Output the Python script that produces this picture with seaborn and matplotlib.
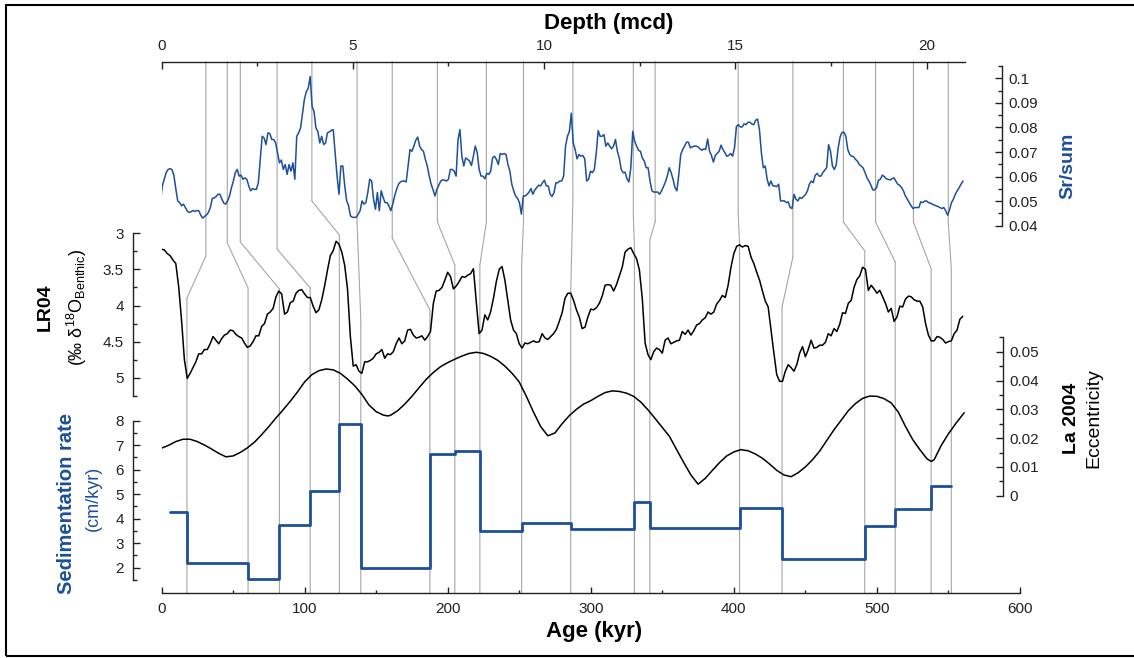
# Sr/sum vs depth tied to LR04 benthic d18O, La2004 eccentricity and sedimentation rate
import numpy as np
import pandas as pd
import seaborn as sns
import matplotlib.pyplot as plt
from matplotlib.patches import ConnectionPatch, Rectangle
from matplotlib.transforms import blended_transform_factory as blend
from matplotlib.ticker import FuncFormatter

# ---- data ----
# Sr/sum record, read at 0.05, 0.15, ... m and at 0.1, 0.2, ... m (mcd)
sr_depth_a = np.round(np.arange(210) * 0.1 + 0.05, 2)
sr_a = [
    0.0494, 0.0589, 0.0629, 0.0629, 0.0551, 0.0494, 0.0488, 0.0459, 0.0457, 0.0458,
    0.0461, 0.0431, 0.0444, 0.0474, 0.0513, 0.0528, 0.0508, 0.0488, 0.0521, 0.0582,
    0.0629, 0.0606, 0.0595, 0.0562, 0.0551, 0.0548, 0.0670, 0.0757, 0.0778, 0.0751,
    0.0737, 0.0656, 0.0629, 0.0609, 0.0622, 0.0589, 0.0778, 0.0858, 0.0946, 0.1007,
    0.0865, 0.0784, 0.0764, 0.0737, 0.0782, 0.0791, 0.0602, 0.0643, 0.0562, 0.0481,
    0.0434, 0.0434, 0.0461, 0.0488, 0.0535, 0.0582, 0.0467, 0.0461, 0.0515, 0.0494,
    0.0461, 0.0521, 0.0569, 0.0582, 0.0578, 0.0710, 0.0724, 0.0761, 0.0710, 0.0670,
    0.0602, 0.0546, 0.0548, 0.0582, 0.0585, 0.0589, 0.0629, 0.0602, 0.0791, 0.0643,
    0.0670, 0.0645, 0.0724, 0.0629, 0.0602, 0.0613, 0.0622, 0.0683, 0.0649, 0.0690,
    0.0690, 0.0622, 0.0542, 0.0511, 0.0447, 0.0521, 0.0537, 0.0528, 0.0555, 0.0562,
    0.0585, 0.0562, 0.0519, 0.0575, 0.0582, 0.0602, 0.0764, 0.0858, 0.0710,
    0.0690, 0.0686, 0.0582, 0.0622, 0.0629, 0.0787, 0.0764, 0.0724, 0.0724, 0.0724,
    0.0703, 0.0629, 0.0618, 0.0578, 0.0784, 0.0724, 0.0703, 0.0663, 0.0636, 0.0542,
    0.0537, 0.0528, 0.0559, 0.0602, 0.0616, 0.0555, 0.0609, 0.0710, 0.0740, 0.0717,
    0.0724, 0.0721, 0.0707, 0.0710, 0.0703, 0.0659, 0.0694, 0.0728, 0.0697, 0.0686,
    0.0683, 0.0804, 0.0802, 0.0815, 0.0821, 0.0814, 0.0829, 0.0791, 0.0636, 0.0589,
    0.0582, 0.0562, 0.0569, 0.0501, 0.0494, 0.0474, 0.0528, 0.0501, 0.0511, 0.0527,
    0.0569, 0.0575, 0.0613, 0.0602, 0.0626, 0.0730, 0.0643, 0.0649, 0.0761, 0.0780,
    0.0710, 0.0683, 0.0670, 0.0649, 0.0635, 0.0595, 0.0566, 0.0546, 0.0586, 0.0606,
    0.0591, 0.0586, 0.0595, 0.0569, 0.0555, 0.0521, 0.0494, 0.0470, 0.0474, 0.0497,
    0.0500, 0.0494, 0.0488, 0.0481, 0.0474, 0.0474, 0.0443, 0.0494, 0.0528, 0.0555,
    0.0582,
]
sr_depth_b = np.round(np.arange(1, 210) * 0.1, 2)
sr_b = [
    0.0562, 0.0616, 0.0632, 0.0605, 0.0501, 0.0481, 0.0474, 0.0454, 0.0462, 0.0462,
    0.0443, 0.0438, 0.0454, 0.0511, 0.0519, 0.0528, 0.0492, 0.0501, 0.0555, 0.0616,
    0.0602, 0.0589, 0.0589, 0.0542, 0.0548, 0.0575, 0.0764, 0.0730, 0.0775, 0.0751,
    0.0697, 0.0667, 0.0649, 0.0649, 0.0656, 0.0764, 0.0798, 0.0915, 0.0960, 0.0885,
    0.0798, 0.0737, 0.0730, 0.0778, 0.0788, 0.0697, 0.0528, 0.0643, 0.0501, 0.0440,
    0.0434, 0.0447, 0.0501, 0.0494, 0.0589, 0.0508, 0.0535, 0.0542, 0.0494, 0.0481,
    0.0488, 0.0548, 0.0578, 0.0582, 0.0643, 0.0703, 0.0748, 0.0724, 0.0703, 0.0643,
    0.0569, 0.0521, 0.0565, 0.0587, 0.0582, 0.0629, 0.0622, 0.0751, 0.0683, 0.0676,
    0.0663, 0.0683, 0.0697, 0.0602, 0.0591, 0.0609, 0.0676, 0.0670, 0.0694, 0.0694,
    0.0649, 0.0569, 0.0521, 0.0494, 0.0521, 0.0528, 0.0551, 0.0546, 0.0565, 0.0575,
    0.0562, 0.0528, 0.0535, 0.0575, 0.0582, 0.0724, 0.0784, 0.0737, 0.0672, 0.0683,
    0.0672, 0.0589, 0.0616, 0.0697, 0.0764, 0.0771, 0.0737, 0.0713, 0.0751, 0.0676,
    0.0616, 0.0591, 0.0636, 0.0744, 0.0707, 0.0676, 0.0636, 0.0582, 0.0537, 0.0537,
    0.0542, 0.0578, 0.0636, 0.0589, 0.0542, 0.0690, 0.0724, 0.0740, 0.0721, 0.0724,
    0.0713, 0.0713, 0.0753, 0.0686, 0.0686, 0.0703, 0.0710, 0.0683, 0.0694, 0.0717,
    0.0811, 0.0802, 0.0811, 0.0821, 0.0811, 0.0834, 0.0697, 0.0643, 0.0562, 0.0562,
    0.0559, 0.0501, 0.0501, 0.0497, 0.0470, 0.0508, 0.0515, 0.0519, 0.0542, 0.0582,
    0.0605, 0.0602, 0.0616, 0.0636, 0.0703, 0.0629, 0.0717, 0.0780, 0.0764, 0.0690,
    0.0681, 0.0663, 0.0643, 0.0616, 0.0582, 0.0546, 0.0555, 0.0589, 0.0600, 0.0589,
    0.0591, 0.0582, 0.0565, 0.0542, 0.0508, 0.0481, 0.0474, 0.0474, 0.0494, 0.0501,
    0.0492, 0.0484, 0.0478, 0.0470, 0.0461, 0.0465, 0.0508, 0.0542, 0.0569,
]

# LR04 benthic d18O stack, every 2 kyr from 0 to 560 kyr
lr04_age = np.arange(0, 561, 2)
lr04_d18o = [
    3.22, 3.23, 3.28, 3.31, 3.37, 3.42, 3.74, 4.20, 4.75, 5.01,
    4.94, 4.86, 4.78, 4.67, 4.67, 4.61, 4.61, 4.53, 4.43, 4.48,
    4.53, 4.46, 4.41, 4.39, 4.34, 4.35, 4.40, 4.43, 4.45, 4.52,
    4.58, 4.56, 4.50, 4.42, 4.42, 4.29, 4.25, 4.12, 4.09, 4.04,
    3.88, 3.80, 3.84, 4.12, 4.09, 3.96, 3.94, 3.83, 3.79, 3.78,
    3.84, 3.89, 3.89, 4.01, 4.10, 4.06, 3.92, 3.73, 3.51, 3.31,
    3.24, 3.11, 3.15, 3.26, 3.44, 3.77, 4.43, 4.84, 4.82, 4.91,
    4.94, 4.78, 4.78, 4.76, 4.73, 4.67, 4.65, 4.61, 4.73, 4.67,
    4.68, 4.64, 4.53, 4.45, 4.53, 4.49, 4.34, 4.33, 4.41, 4.45,
    4.44, 4.42, 4.48, 4.43, 4.36, 3.97, 3.80, 3.79, 3.75, 3.65,
    3.54, 3.60, 3.77, 3.73, 3.67, 3.60, 3.61, 3.58, 3.56, 3.49,
    3.95, 4.39, 4.34, 4.13, 4.20, 4.09, 3.90, 3.67, 3.50, 3.46,
    3.65, 3.93, 4.20, 4.34, 4.39, 4.53, 4.59, 4.52, 4.53, 4.51,
    4.49, 4.51, 4.50, 4.39, 4.45, 4.47, 4.43, 4.39, 4.33, 4.22,
    4.10, 3.90, 3.83, 3.83, 3.93, 4.06, 4.16, 4.32, 4.30, 4.16,
    4.05, 4.06, 4.03, 3.97, 3.87, 3.72, 3.71, 3.72, 3.80, 3.71,
    3.59, 3.47, 3.26, 3.22, 3.20, 3.28, 3.35, 3.51, 3.90, 4.52,
    4.68, 4.75, 4.64, 4.59, 4.61, 4.66, 4.48, 4.45, 4.53, 4.51,
    4.49, 4.48, 4.36, 4.40, 4.34, 4.41, 4.35, 4.27, 4.25, 4.20,
    4.17, 4.09, 4.12, 4.09, 3.98, 3.93, 3.86, 3.89, 3.72, 3.47,
    3.28, 3.18, 3.16, 3.19, 3.17, 3.18, 3.33, 3.42, 3.54, 3.65,
    3.80, 3.94, 4.02, 4.34, 4.66, 4.96, 5.05, 5.05, 4.91, 4.82,
    4.86, 4.91, 4.82, 4.66, 4.57, 4.71, 4.61, 4.48, 4.59, 4.58,
    4.55, 4.55, 4.51, 4.39, 4.42, 4.32, 4.36, 4.26, 4.10, 4.11,
    3.97, 3.93, 3.75, 3.64, 3.59, 3.47, 3.50, 3.79, 3.72, 3.77,
    3.83, 3.79, 3.88, 3.97, 4.09, 4.04, 4.22, 4.16, 4.01, 4.02,
    3.91, 3.87, 3.88, 3.92, 3.94, 3.94, 4.02, 4.25, 4.41, 4.49,
    4.49, 4.43, 4.44, 4.47, 4.52, 4.50, 4.49, 4.39, 4.34, 4.19,
    4.15,
]

# La2004 eccentricity, read every 5 kyr (plus the minima)
ecc_age = [0, 5, 10, 15, 20, 25, 30, 35, 40, 45, 50, 55, 60, 65, 70, 75, 80, 85, 90,
           95, 100, 105, 110, 115, 120, 125, 130, 135, 140, 145, 150, 155, 158, 160,
           165, 170, 175, 180, 185, 190, 195, 200, 205, 210, 215, 220, 225, 230, 235,
           240, 245, 250, 255, 260, 265, 270, 275, 280, 285, 290, 295, 300, 305, 310,
           315, 320, 325, 330, 335, 340, 345, 350, 355, 360, 365, 370, 375, 380, 385,
           390, 395, 400, 405, 410, 415, 420, 425, 430, 435, 440, 445, 450, 455, 460,
           465, 470, 475, 480, 485, 490, 495, 500, 505, 510, 515, 520, 525, 530, 535,
           538, 540, 545, 550, 555, 561]
ecc_value = [0.0165, 0.0175, 0.0188, 0.0196, 0.0196, 0.0188, 0.0176, 0.0162, 0.0147,
             0.0135, 0.0138, 0.0150, 0.0166, 0.0186, 0.0212, 0.0240, 0.0270, 0.0298,
             0.0328, 0.0360, 0.0395, 0.0420, 0.0434, 0.0440, 0.0437, 0.0425, 0.0405,
             0.0382, 0.0352, 0.0315, 0.0292, 0.0280, 0.0277, 0.0279, 0.0295, 0.0318,
             0.0345, 0.0375, 0.0404, 0.0428, 0.0448, 0.0462, 0.0474, 0.0485, 0.0494,
             0.0498, 0.0494, 0.0484, 0.0470, 0.0450, 0.0425, 0.0395, 0.0345, 0.0290,
             0.0240, 0.0208, 0.0218, 0.0250, 0.0278, 0.0300, 0.0318, 0.0330, 0.0345,
             0.0358, 0.0364, 0.0362, 0.0356, 0.0345, 0.0325, 0.0298, 0.0268, 0.0237,
             0.0206, 0.0160, 0.0115, 0.0072, 0.0040, 0.0060, 0.0088, 0.0115, 0.0138,
             0.0152, 0.0160, 0.0156, 0.0145, 0.0130, 0.0110, 0.0088, 0.0072, 0.0066,
             0.0080, 0.0100, 0.0125, 0.0155, 0.0192, 0.0229, 0.0262, 0.0295, 0.0320,
             0.0338, 0.0346, 0.0345, 0.0337, 0.0322, 0.0290, 0.0240, 0.0195, 0.0160,
             0.0128, 0.0119, 0.0125, 0.0175, 0.0215, 0.0250, 0.0288]

# tie points: depth (mcd) <-> age (kyr)
tie_depth = [1.16, 1.72, 2.06, 3.02, 3.93, 5.11, 6.03, 7.21, 8.49, 9.46,
             10.75, 12.33, 12.90, 15.07, 16.50, 17.82, 18.66, 19.65, 20.56]
tie_age = [17.8, 60.5, 82.4, 103.9, 124.3, 139.3, 187.6, 205.0, 222.5, 251.7,
           286.0, 330.5, 341.3, 404.0, 433.7, 491.5, 512.8, 537.9, 552.0]

# sedimentation rate between ties (cm/kyr)
sed_start = 6.2
sed_rate = [4.26, 2.18, 1.54, 3.74, 5.13, 7.85, 2.00, 6.63, 6.75, 3.48,
            3.84, 3.58, 4.69, 3.62, 4.44, 2.35, 3.69, 4.41, 5.32]

# ---- layout (pixels of the 1134x658 canvas) ----
W, H = 1134, 658
X0, X1 = 161.5, 1020.0          # age 0 .. 600
DEPTH0_PX, DEPTH_PX_PER_M = 158.5, 38.4
TOP_PX, BOT_PX = 61.7, 592.7
kink_top = [256, 243, 242, 249, 201, 222, 238, 222, 222, 222, 200, 215, 222, 213, 257, 222, 222, 222, 222]
kink_bot = [298, 288, 289, 288, 235, 320, 310, 265, 265, 265, 293, 247, 240, 243, 307, 251, 262, 269, 269]

BLUE = "#1d4f9a"
INK = "#222222"
TIE = "#a6a6a6"

sns.set_theme(style="ticks")
plt.rcParams["font.family"] = ["Liberation Sans", "DejaVu Sans"]
plt.rcParams["mathtext.fontset"] = "custom"
plt.rcParams["mathtext.rm"] = "Liberation Sans"
plt.rcParams["mathtext.it"] = "Liberation Sans:italic"
plt.rcParams["mathtext.bf"] = "Liberation Sans:bold"

fig = plt.figure(figsize=(W / 100, H / 100), dpi=100)
fig.patch.set_facecolor("white")


def px_axes(top, bottom):
    ax = fig.add_axes([X0 / W, 1 - bottom / H, (X1 - X0) / W, (bottom - top) / H])
    ax.patch.set_visible(False)
    return ax


def fy(px):
    return 1 - px / H


gfmt = FuncFormatter(lambda v, p: f"{v:g}")
depth_lim = ((X0 - DEPTH0_PX) / DEPTH_PX_PER_M, (X1 - DEPTH0_PX) / DEPTH_PX_PER_M)


def side_axis(ax, side, spine_px, bounds, major, minor, pad):
    for s in ax.spines.values():
        s.set_visible(False)
    sp = ax.spines[side]
    sp.set_visible(True)
    sp.set_position(("axes", (spine_px - X0) / (X1 - X0)))
    sp.set_bounds(*bounds)
    sp.set_linewidth(1.0)
    sp.set_color(INK)
    ax.yaxis.set_ticks_position(side)
    ax.set_yticks(major)
    ax.set_yticks(minor, minor=True)
    ax.yaxis.set_major_formatter(gfmt)
    ax.tick_params(axis="y", which="both", direction="in", colors=INK, width=1.0,
                   labelsize=11, pad=pad)
    ax.tick_params(axis="y", which="major", length=5)
    ax.tick_params(axis="y", which="minor", length=3.2)
    ax.set_xticks([])
    ax.set_xlabel("")
    ax.set_ylabel("")


# base age axis (bottom) and depth axis (top)
ax_age = px_axes(TOP_PX, BOT_PX)
ax_age.set_xlim(0, 600)
ax_age.set_ylim(0, 1)
for s in ("left", "right", "top"):
    ax_age.spines[s].set_visible(False)
ax_age.spines["bottom"].set_linewidth(1.0)
ax_age.spines["bottom"].set_color(INK)
ax_age.set_yticks([])
ax_age.set_xticks(np.arange(0, 601, 100))
ax_age.set_xticks(np.arange(50, 600, 100), minor=True)
ax_age.tick_params(axis="x", which="both", direction="in", colors=INK, width=1.0,
                   labelsize=11, pad=6.5)
ax_age.tick_params(axis="x", which="major", length=4)
ax_age.tick_params(axis="x", which="minor", length=2.2)

ax_top = ax_age.twiny()
ax_top.patch.set_visible(False)
ax_top.set_xlim(*depth_lim)
for s in ("left", "right", "bottom"):
    ax_top.spines[s].set_visible(False)
ax_top.spines["top"].set_bounds(0, 21)
ax_top.spines["top"].set_linewidth(1.0)
ax_top.spines["top"].set_color(INK)
ax_top.set_xticks([0, 5, 10, 15, 20])
ax_top.set_xticks([2.5, 7.5, 12.5, 17.5], minor=True)
ax_top.tick_params(axis="x", which="both", direction="in", colors=INK, width=1.0,
                   labelsize=11, pad=6)
ax_top.tick_params(axis="x", which="major", length=5)
ax_top.tick_params(axis="x", which="minor", length=2.6)

# Sr/sum panel (depth scale)
sr = pd.DataFrame({"depth": np.concatenate([sr_depth_a, sr_depth_b]),
                   "sr": np.concatenate([sr_a, sr_b])})
ax_sr = px_axes(TOP_PX, 250)
ax_sr.set_xlim(*depth_lim)
ax_sr.set_ylim(0.1 - (250 - 78.3) / 2457, 0.1 + (78.3 - TOP_PX) / 2457)
sns.lineplot(data=sr, x="depth", y="sr", ax=ax_sr, color=BLUE, lw=1.1, legend=False)
side_axis(ax_sr, "right", 1002.3, (0.04, 0.105),
          np.round(np.arange(0.04, 0.101, 0.01), 2),
          np.round(np.arange(0.045, 0.106, 0.01), 3), 4.3)

# LR04 panel
ax_lr = px_axes(225, 400)
ax_lr.set_xlim(0, 600)
ax_lr.set_ylim(3 + (400 - 233.3) / 72.2, 3 - (233.3 - 225) / 72.2)
sns.lineplot(x=lr04_age, y=lr04_d18o, ax=ax_lr, color="black", lw=1.1, legend=False)
side_axis(ax_lr, "left", 132.7, (3, 5.25), [3, 3.5, 4, 4.5, 5],
          [3.25, 3.75, 4.25, 4.75, 5.25], 6.5)

# eccentricity panel
ax_ecc = px_axes(330, 500)
ax_ecc.set_xlim(0, 600)
ax_ecc.set_ylim(-(500 - 495.7) / 2880, 0.05 + (351.7 - 330) / 2880)
sns.lineplot(x=ecc_age, y=ecc_value, ax=ax_ecc, color="black", lw=1.1, legend=False)
side_axis(ax_ecc, "right", 1003.0, (0, 0.055),
          np.round(np.arange(0, 0.051, 0.01), 2),
          np.round(np.arange(0.005, 0.056, 0.01), 3), 4.3)

# sedimentation rate panel
ax_sed = px_axes(410, BOT_PX)
ax_sed.set_xlim(0, 600)
ax_sed.set_ylim(2 - (BOT_PX - 567.7) / 24.5, 8 + (420.7 - 410) / 24.5)
sed_edges = [sed_start] + tie_age
sns.lineplot(x=sed_edges, y=sed_rate + [sed_rate[-1]], ax=ax_sed, color=BLUE, lw=2.0,
             drawstyle="steps-post", legend=False)
side_axis(ax_sed, "left", 133.0, (1.5, 8), np.arange(2, 9),
          np.arange(1.5, 8, 1.0), 6.5)

# tie lines: depth axis -> kink -> age axis
tr_top = blend(ax_top.transData, fig.transFigure)
tr_bot = blend(ax_age.transData, fig.transFigure)
for d, a, k1, k2 in zip(tie_depth, tie_age, kink_top, kink_bot):
    for xyA, xyB, cA, cB in (((d, fy(TOP_PX)), (d, fy(k1)), tr_top, tr_top),
                             ((d, fy(k1)), (a, fy(k2)), tr_top, tr_bot),
                             ((a, fy(k2)), (a, fy(BOT_PX)), tr_bot, tr_bot)):
        con = ConnectionPatch(xyA=xyA, xyB=xyB, coordsA=cA, coordsB=cB,
                              color=TIE, lw=0.8, zorder=-1)
        fig.add_artist(con)

# axis titles and panel labels
fig.text(609 / W, fy(24), "Depth (mcd)", ha="center", va="center",
         fontsize=16, fontweight="bold", color="black")
fig.text(594 / W, fy(631), "Age (kyr)", ha="center", va="center",
         fontsize=16, fontweight="bold", color="black")
fig.text(1067.5 / W, fy(166), "Sr/sum", rotation=90, ha="center", va="center",
         fontsize=14, fontweight="bold", color=BLUE)
fig.text(45.5 / W, fy(307), "LR04", rotation=90, ha="center", va="center",
         fontsize=14, fontweight="bold", color="black")
fig.text(77 / W, fy(307), r"(‰ δ$^{18}$O$_{\mathrm{Benthic}}$)", rotation=90,
         ha="center", va="center", fontsize=13, color="black")
fig.text(66.5 / W, fy(503), "Sedimentation rate", rotation=90, ha="center",
         va="center", fontsize=14.5, fontweight="bold", color=BLUE)
fig.text(93.5 / W, fy(498), "(cm/kyr)", rotation=90, ha="center", va="center",
         fontsize=13, color=BLUE)
fig.text(1071 / W, fy(418), "La 2004", rotation=90, ha="center", va="center",
         fontsize=14, fontweight="bold", color="black")
fig.text(1094 / W, fy(418), "Eccentricity", rotation=90, ha="center", va="center",
         fontsize=14, color="black")

# outer frame
fig.add_artist(Rectangle((5.5 / W, fy(656)), 1.2, (656 - 5) / H, transform=fig.transFigure,
                         fill=False, edgecolor="black", lw=1.5))

fig.savefig("out.png", dpi=100, facecolor="white")
